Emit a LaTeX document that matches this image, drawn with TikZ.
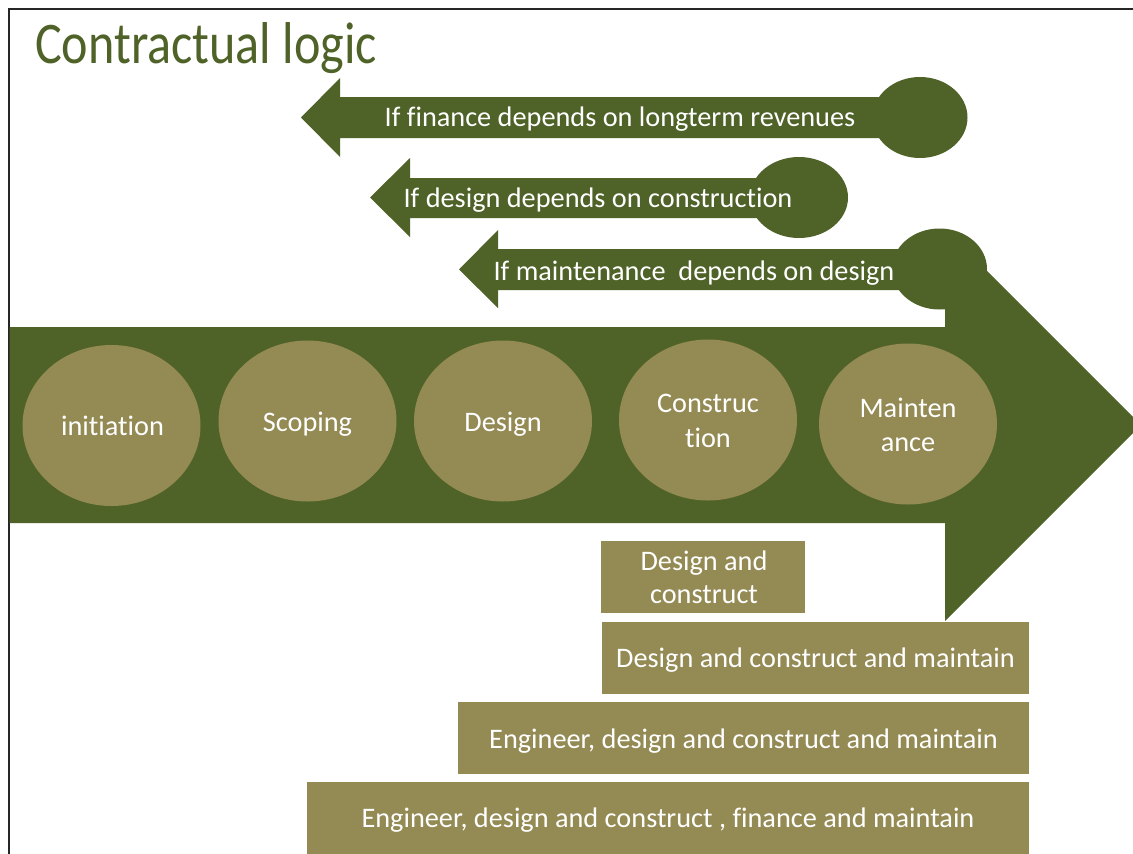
\documentclass[tikz,border=0pt]{standalone}
\usepackage{fontspec}
\setmainfont{Carlito}[Ligatures={NoCommon}]
\newfontfamily\titlefont[FakeStretch=0.85,Ligatures={NoCommon}]{Carlito}
\usetikzlibrary{shapes.geometric}
\definecolor{dkgreen}{HTML}{4F6228}
\definecolor{tanfill}{HTML}{948A54}
\begin{document}
\begin{tikzpicture}[x=1pt,y=-1pt,
  lbl/.style={text=white, font=\fontsize{28.3}{34}\selectfont, inner sep=0pt, anchor=base},
  disc/.style={ellipse, fill=tanfill, minimum width=178pt, minimum height=161pt, inner sep=0pt},
  knob/.style={ellipse, fill=dkgreen, minimum width=95pt, minimum height=81pt, inner sep=0pt},
  plate/.style={rectangle, fill=tanfill, inner sep=0pt, anchor=north west, minimum height=72pt}]
\useasboundingbox (0,0) rectangle (1133,854);
\fill[white] (0,0) rectangle (1133,854);
% frame
\draw[line width=2pt, black!85] (8.5,854) -- (8.5,8.5) -- (1133,8.5);
% title
\node[anchor=base west, inner sep=0pt, text=dkgreen, font=\titlefont\fontsize{59}{70}\selectfont] (title) at (35,63) {Contractual logic};
% main band arrow
\fill[dkgreen] (9.5,327) -- (945,327) -- (945,229) -- (1141,425) -- (945,621) -- (945,523) -- (9.5,523) -- cycle;
% small left arrows
\fill[dkgreen] (301,117.5) -- (340,78) -- (340,97) -- (920,97) -- (920,138) -- (340,138) -- (340,157) -- cycle;
\node[knob] (k1) at (920,117.5) {};
\fill[dkgreen] (370,197.5) -- (410,158) -- (410,178) -- (799,178) -- (799,218) -- (410,218) -- (410,237) -- cycle;
\node[knob, minimum width=98pt] (k2) at (799,197.5) {};
\fill[dkgreen] (459,269.5) -- (498,230) -- (498,249) -- (939,249) -- (939,290) -- (498,290) -- (498,308) -- cycle;
\node[knob] (k3) at (939.5,269) {};
\node[lbl] (t1) at (620,126) {If finance depends on longterm revenues};
\node[lbl] (t2) at (598,207) {If design depends on construction};
\node[lbl] (t3) at (694,280) {If maintenance\ \ depends on design};
% phase discs
\node[disc] (d1) at (111.5,425.5) {};
\node[disc] (d2) at (307.5,421) {};
\node[disc] (d3) at (503,421) {};
\node[disc] (d4) at (708,420) {};
\node[disc] (d5) at (908,424) {};
\node[lbl] (d1t) at (112.5,435) {initiation};
\node[lbl] (d2t) at (307.5,431) {Scoping};
\node[lbl] (d3t) at (503,431) {Design};
\node[lbl] (d4a) at (708,412) {Construc};
\node[lbl] (d4b) at (708,447) {tion};
\node[lbl] (d5a) at (908,417) {Mainten};
\node[lbl] (d5b) at (908,451) {ance};
% contract plates
\node[plate, minimum width=204pt, minimum height=72pt] (r1) at (601,541) {};
\node[plate, minimum width=427pt] (r2) at (602,622) {};
\node[plate, minimum width=571pt] (r3) at (458,702) {};
\node[plate, minimum width=722pt] (r4) at (307,782) {};
\node[lbl] (r1a) at (704,570) {Design and};
\node[lbl] (r1b) at (704,603) {construct};
\node[lbl] (r2t) at (815.5,667) {Design and construct and maintain};
\node[lbl] (r3t) at (743.5,748) {Engineer, design and construct and maintain};
\node[lbl] (r4t) at (668,827) {Engineer, design and construct , finance and maintain};
\end{tikzpicture}
\end{document}
